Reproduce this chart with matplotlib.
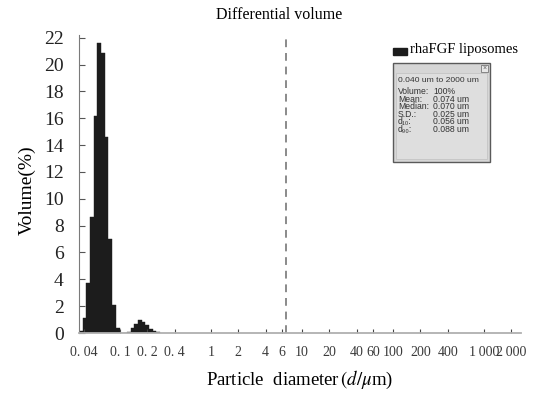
import numpy as np
import matplotlib
matplotlib.use('Agg')
import matplotlib.pyplot as plt
from matplotlib.patches import Rectangle

plt.rcParams['font.family'] = ['Liberation Serif', 'DejaVu Serif']
plt.rcParams['mathtext.fontset'] = 'stix'

# channel grid (um) and volume % per channel
channel_lo = 0.0355
channel_step = 0.0405   # decades per channel
volume = [0.17, 1.15, 3.75, 8.65, 16.2, 21.6, 20.85, 14.6, 7.0, 2.1, 0.35,
          0.0, 0.0, 0.1, 0.35, 0.7, 0.97, 0.85, 0.6, 0.3, 0.12, 0.04]

xticks = [0.04, 0.1, 0.2, 0.4, 1, 2, 4, 6, 10, 20, 40, 60, 100, 200, 400, 1000, 2000]
xticklabels = ['0. 04', '0. 1', '0. 2', '0. 4', '1', '2', '4', '6', '10', '20',
               '40', '60', '100', '200', '400', '1\u2009000', '2\u2009000']
yticks = list(range(0, 23, 2))
cutoff = 6.7

stats_labels = ['Volume:', 'Mean:', 'Median:', 'S.D.:', 'd\u2081\u2080:', 'd\u2089\u2080:']
stats_values = ['100%', '0.074 um', '0.070 um', '0.025 um', '0.056 um', '0.088 um']

W, H = 542, 393
def px(x, y):
    return x / W, 1 - y / H

edges = channel_lo * 10 ** (channel_step * np.arange(len(volume) + 1))

fig = plt.figure(figsize=(W / 100, H / 100), dpi=100)
ax = fig.add_axes([79 / W, 60 / H, 442 / W, 298 / H])

ax.bar(edges[:-1], volume, width=np.diff(edges), align='edge',
       color='#1c1c1c', edgecolor='#1c1c1c', linewidth=0.3)
ax.axvline(cutoff, color='#8a8a8a', lw=1.4, ls=(0, (4, 3)))

ax.set_xscale('log')
ax.set_xlim(channel_lo, 2550)
ax.set_ylim(0, 22.2)
ax.set_xticks(xticks)
ax.set_xticklabels(xticklabels)
ax.minorticks_off()
ax.set_yticks(yticks)

for s in ['top', 'right']:
    ax.spines[s].set_visible(False)
ax.spines['left'].set_color('#7a7a7a')
ax.spines['bottom'].set_color('#b0b0b0')
ax.spines['bottom'].set_linewidth(1.3)

ax.tick_params(axis='x', direction='in', length=3, color='#444444', pad=9,
               labelsize=10, labelcolor='#3a3a3a')
ax.tick_params(axis='y', direction='in', length=4, color='#555555', pad=11,
               labelsize=14, labelcolor='#222222')

fig.text(*px(279, 15), 'Differential volume', ha='center', va='center', fontsize=11.5)
fig.text(*px(27, 190), 'Volume(%)', ha='center', va='center', rotation=90, fontsize=14)
fig.text(*px(300, 380), r'Particle  diameter$\,(d/\mu$m)', ha='center', va='center', fontsize=13.5)

# legend
fig.patches.append(Rectangle(px(393, 55), 14 / W, 7 / H, transform=fig.transFigure,
                             color='#1c1c1c'))
fig.text(*px(410, 49), 'rhaFGF liposomes', ha='left', va='center', fontsize=10.5)

# statistics box
sans = ['Liberation Sans', 'DejaVu Sans']
fig.patches.append(Rectangle(px(392.5, 162), 97.5 / W, 99 / H, transform=fig.transFigure,
                             facecolor='#d6d6d6', edgecolor='#5a5a5a', lw=1))
fig.patches.append(Rectangle(px(395.5, 159), 91.5 / W, 86 / H, transform=fig.transFigure,
                             facecolor='#dedede', edgecolor='#c4c4c4', lw=0.6))
fig.patches.append(Rectangle(px(481, 72), 7 / W, 7 / H, transform=fig.transFigure,
                             facecolor='#e8e8e8', edgecolor='#777777', lw=0.6))
fig.text(*px(484.5, 68.5), '\u00d7', ha='center', va='center', fontsize=5,
         family=sans, color='#555555')
fig.text(*px(398, 81.5), '0.040 um to 2000 um', ha='left', va='baseline', fontsize=6.1,
         family=sans, color='#333333')
for i, (lab, val) in enumerate(zip(stats_labels, stats_values)):
    y = 94 + i * 7.6
    fig.text(*px(398, y), lab, ha='left', va='baseline', fontsize=6.2, family=sans, color='#333333')
    fig.text(*px(433, y), val, ha='left', va='baseline', fontsize=6.2, family=sans, color='#333333')

fig.savefig('out.png', dpi=100)
